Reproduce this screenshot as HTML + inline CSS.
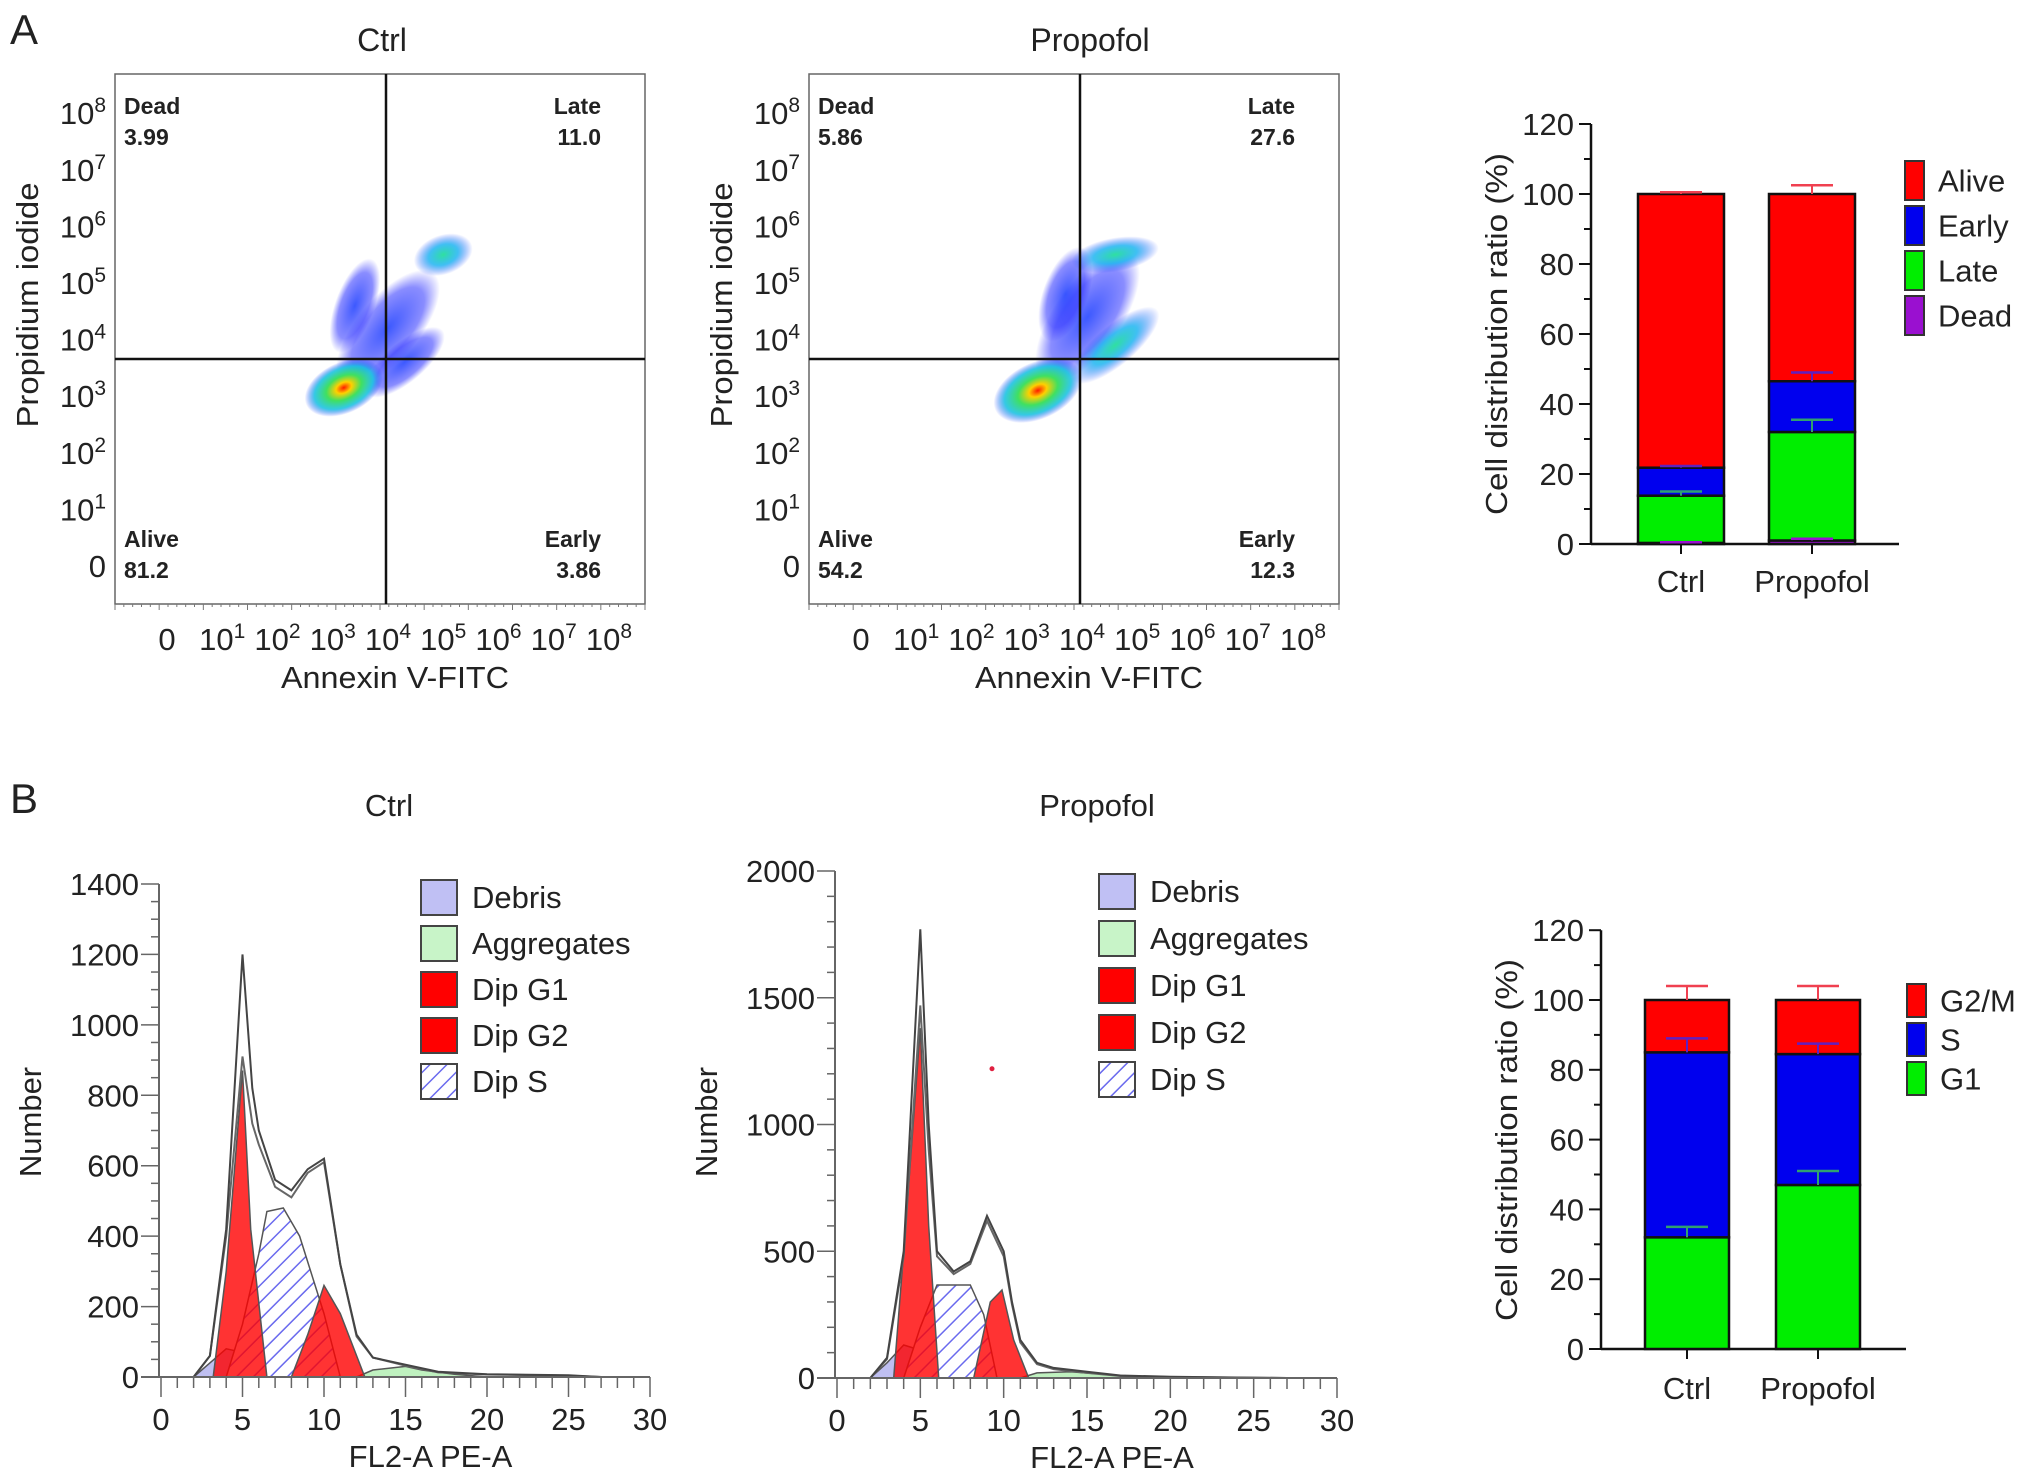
<!DOCTYPE html>
<html><head><meta charset="utf-8"><title>Apoptosis and cell cycle</title>
<style>
html,body{margin:0;padding:0;background:#fff;}
svg{display:block;font-family:"Liberation Sans",Arial,sans-serif;}
</style></head>
<body>
<svg id="fig" width="2032" height="1475" viewBox="0 0 2032 1475" xmlns="http://www.w3.org/2000/svg">
<defs>
<pattern id="hatch" patternUnits="userSpaceOnUse" width="12" height="12" patternTransform="rotate(45)">
<rect width="12" height="12" fill="#ffffff"/>
<line x1="0" y1="0" x2="0" y2="12" stroke="#6a6aee" stroke-width="3"/>
</pattern>
<clipPath id="clipA1"><rect x="115" y="74" width="530" height="530"/></clipPath>
<clipPath id="clipA2"><rect x="809" y="74" width="530" height="530"/></clipPath>
<radialGradient id="coreGrad">
<stop offset="0" stop-color="#ff1a00"/>
<stop offset="0.2" stop-color="#ffd000"/>
<stop offset="0.45" stop-color="#40e060"/>
<stop offset="0.75" stop-color="#10c0e0" stop-opacity="0.85"/>
<stop offset="1" stop-color="#1030ff" stop-opacity="0"/>
</radialGradient>
<radialGradient id="blueGrad">
<stop offset="0" stop-color="#1a3cff" stop-opacity="0.85"/>
<stop offset="0.7" stop-color="#2a30ff" stop-opacity="0.55"/>
<stop offset="1" stop-color="#3030ff" stop-opacity="0"/>
</radialGradient>
<radialGradient id="cyanGrad">
<stop offset="0" stop-color="#30e0a0"/>
<stop offset="0.5" stop-color="#10b0f0" stop-opacity="0.8"/>
<stop offset="1" stop-color="#1a40ff" stop-opacity="0"/>
</radialGradient>
</defs>
<g id="root"></g>
</svg>
<script>
// ---------- Panel A flow data (quadrant percentages) ----------
const flowTitles = ['Ctrl', 'Propofol'];
const flowDead = ['3.99', '5.86'];
const flowLate = ['11.0', '27.6'];
const flowAlive = ['81.2', '54.2'];
const flowEarly = ['3.86', '12.3'];
// density blobs in decade coordinates: [xDecade, yDecade, rx(decades), ry(decades), angle, type]
const blobsCtrl = [[4.0,4.2,1.3,0.55,-50,'b'],[3.4,4.6,0.9,0.35,-70,'b'],[5.0,5.5,0.55,0.35,-20,'c'],[4.3,3.6,0.9,0.35,-40,'b'],[3.2,3.15,0.75,0.45,-25,'core']];
const blobsProp = [[4.1,4.4,1.4,0.6,-55,'b'],[3.7,4.8,0.9,0.4,-70,'b'],[4.6,5.5,0.8,0.3,-10,'c'],[4.6,3.9,1.0,0.35,-40,'c'],[3.2,3.1,0.85,0.5,-25,'core']];

// ---------- Panel A bar chart ----------
const barCatsA = ['Ctrl', 'Propofol'];
const deadA = [0.3, 1.0];
const lateA = [13.5, 31.0];
const earlyA = [8.0, 14.5];
const aliveA = [78.2, 53.5];
const deadErrA = [0.2, 0.5];
const lateErrA = [1.2, 3.5];
const earlyErrA = [0.5, 2.5];
const aliveErrA = [0.5, 2.5];
const ticksA = [0, 20, 40, 60, 80, 100, 120];

// ---------- Panel B histograms ----------
const histXTicks = [0, 5, 10, 15, 20, 25, 30];
const h1Ticks = [0, 200, 400, 600, 800, 1000, 1200, 1400];
const h2Ticks = [0, 500, 1000, 1500, 2000];
const c_totX = [0,2,3,4,5,5.6,6,7,8,9,10,11,12,13,15,17,20,25,27];
const c_totY = [0,0,60,420,1200,820,700,560,530,590,620,320,120,55,35,15,8,5,0];
const c_tot2Y = [0,0,60,400,910,720,660,540,510,580,610,320,115,55,32,13,7,4,0];
const c_g1X = [3.2,4,5,5.5,6.5];
const c_g1Y = [0,300,870,420,0];
const c_g2X = [8,9,10,11,12.5];
const c_g2Y = [0,120,260,180,0];
const c_sX = [4,5,6,6.5,7.5,8.5,10,11];
const c_sY = [0,150,350,470,480,400,180,0];
const c_debX = [2,3,4,5,6,7,8];
const c_debY = [0,40,80,70,50,40,0];
const c_aggX = [12,13,15,16,18,20];
const c_aggY = [0,20,30,20,8,0];

const p_totX = [0,2,3,4,5,5.5,6,7,8,9,10,10.5,11,12,13,15,17,20,27];
const p_totY = [0,0,80,500,1770,1000,500,420,460,640,500,300,150,60,40,25,10,5,0];
const p_tot2Y = [0,0,75,480,1470,900,480,410,450,620,480,290,140,55,35,20,8,4,0];
const p_g1X = [3.4,4,5,5.5,6.1];
const p_g1Y = [0,500,1380,600,0];
const p_sX = [4,5,6,8,8.8,9.6];
const p_sY = [0,200,367,367,250,0];
const p_g2X = [8.2,9.2,9.9,10.6,11.5];
const p_g2Y = [0,300,347,150,0];
const p_debX = [2,3,4,5,6,7,9];
const p_debY = [0,60,130,110,70,40,0];
const p_aggX = [11,12,14,16,18,20];
const p_aggY = [0,20,25,15,5,0];
const histLegend = ['Debris', 'Aggregates', 'Dip G1', 'Dip G2', 'Dip S'];

// ---------- Panel B bar chart ----------
const barCatsB = ['Ctrl', 'Propofol'];
const g1B = [32, 47];
const sB = [53, 37.5];
const g2mB = [15, 15.5];
const g1ErrB = [3, 4];
const sErrB = [4, 3];
const g2mErrB = [4, 4];
const ticksB = [0, 20, 40, 60, 80, 100, 120];

const NS = 'http://www.w3.org/2000/svg';
const root = document.getElementById('root');
function el(tag, attrs, parent) {
  const e = document.createElementNS(NS, tag);
  for (const k in attrs) e.setAttribute(k, attrs[k]);
  (parent || root).appendChild(e);
  return e;
}
function txt(s, x, y, size, opts, parent) {
  opts = opts || {};
  const t = el('text', {x: x, y: y, 'font-size': size, 'text-anchor': opts.anchor || 'start', fill: '#222', 'font-weight': opts.bold ? 'bold' : 'normal'}, parent);
  if (opts.rot) t.setAttribute('transform', 'rotate(' + opts.rot + ' ' + x + ' ' + y + ')');
  if (opts.len) { t.setAttribute('textLength', opts.len); t.setAttribute('lengthAdjust', 'spacingAndGlyphs'); }
  t.textContent = s;
  return t;
}

// panel letters
let t = txt('A', 10, 44, 42);


t = txt('B', 10, 813, 42);



// ---------- Flow plots ----------
const fBoxX = 115, fBoxY = 74, fBoxW = 530, fBoxH = 530;
const fx0 = 167, fxStep = 55.25, fy0 = 566, fyStep = 56.6;
const supNums = ['', '1','2','3','4','5','6','7','8'];
[0, 1].forEach(function (p) {
  const off = p * 694;
  const g = el('g', {});
  
  
  const fx = function (d) { return off + fx0 + d * fxStep; };
  const fy = function (d) { return fy0 - d * fyStep; };
  const title = txt(flowTitles[p], off + (p ? 396 : 382), 51, 32, {anchor: 'middle'}, g);
  
  
  const bg = el('g', {'clip-path': p === 0 ? 'url(#clipA1)' : 'url(#clipA2)'}, g);
  const blobs = p === 0 ? blobsCtrl : blobsProp;
  blobs.forEach(function (b) {
    const cx = fx(b[0]), cy = fy(b[1]);
    const e = el('ellipse', {cx: cx, cy: cy, rx: b[2] * fxStep, ry: b[3] * fyStep,
      transform: 'rotate(' + b[4] + ' ' + cx + ' ' + cy + ')',
      fill: b[5] === 'core' ? 'url(#coreGrad)' : (b[5] === 'c' ? 'url(#cyanGrad)' : 'url(#blueGrad)')}, bg);
    
    
  });
  const box = el('rect', {x: off + fBoxX, y: fBoxY, width: fBoxW, height: fBoxH, fill: 'none', stroke: '#666', 'stroke-width': 1.5}, g);
  
  
  for (let i = 0; i <= 60; i++) {
    el('line', {x1: off + fBoxX + i * fBoxW / 60, x2: off + fBoxX + i * fBoxW / 60, y1: fBoxY + fBoxH, y2: fBoxY + fBoxH + (i % 5 === 0 ? 6 : 3), stroke: '#777', 'stroke-width': 1}, g);
  }
  const vl = el('line', {x1: off + 386, x2: off + 386, y1: fBoxY, y2: fBoxY + fBoxH, stroke: '#111', 'stroke-width': 2.5}, g);
  
  
  const hl = el('line', {x1: off + fBoxX, x2: off + fBoxX + fBoxW, y1: 359, y2: 359, stroke: '#111', 'stroke-width': 2.5}, g);
  
  
  for (let i = 0; i <= 8; i++) {
    const y = fy(i) + 11;
    const tt = el('text', {x: off + 106, y: y, 'font-size': 31, 'text-anchor': 'end', fill: '#222'}, g);
    
    
    if (i === 0) { tt.textContent = '0'; }
    else {
      const a = document.createElementNS(NS, 'tspan'); a.textContent = '10'; tt.appendChild(a);
      const b = document.createElementNS(NS, 'tspan'); b.setAttribute('dy', '-12'); b.setAttribute('font-size', '21'); b.textContent = supNums[i]; tt.appendChild(b);
    }
  }
  for (let i = 0; i <= 8; i++) {
    const x = fx(i);
    const tt = el('text', {x: x, y: 650, 'font-size': 31, 'text-anchor': 'middle', fill: '#222'}, g);
    
    
    if (i === 0) { tt.textContent = '0'; }
    else {
      const a = document.createElementNS(NS, 'tspan'); a.textContent = '10'; tt.appendChild(a);
      const b = document.createElementNS(NS, 'tspan'); b.setAttribute('dy', '-12'); b.setAttribute('font-size', '21'); b.textContent = supNums[i]; tt.appendChild(b);
    }
  }
  const xt = txt('Annexin V-FITC', off + 395, 688, 31, {anchor: 'middle', len: 228}, g);
  
  
  const yt = txt('Propidium iodide', off + 38, 305, 31, {anchor: 'middle', rot: -90, len: 245}, g);
  
  
  const q = [['Dead', flowDead[p], off + 124, 'start', 114], ['Late', flowLate[p], off + 601, 'end', 114], ['Alive', flowAlive[p], off + 124, 'start', 547], ['Early', flowEarly[p], off + 601, 'end', 547]];
  q.forEach(function (r) {
    const a = txt(r[0], r[2], r[4], 23, {anchor: r[3], bold: true}, g);
    
    
    const b = txt(r[1], r[2], r[4] + 31, 23, {anchor: r[3], bold: true}, g);
    
    
  });
});

// ---------- stacked bar helper ----------
function stackedBar(cfg) {
  const g = el('g', {});
  
  
  const yS = function (v) { return cfg.y0 - v * cfg.k; };
  const ax = el('line', {x1: cfg.ax, x2: cfg.ax, y1: yS(120), y2: cfg.y0, stroke: '#111', 'stroke-width': 2.5}, g);
  
  
  const bx = el('line', {x1: cfg.ax, x2: cfg.axEnd, y1: cfg.y0, y2: cfg.y0, stroke: '#111', 'stroke-width': 2.5}, g);
  
  
  for (let v = 0; v <= 120; v += 10) {
    el('line', {x1: cfg.ax - (v % 20 === 0 ? 12 : 7), x2: cfg.ax, y1: yS(v), y2: yS(v), stroke: '#111', 'stroke-width': 2}, g);
  }
  cfg.ticks.forEach(function (v) {
    const tl = txt(String(v), cfg.ax - 17, yS(v) + 11, 31, {anchor: 'end'}, g);
    
    
  });
  const yt = txt('Cell distribution ratio (%)', cfg.ax - 84, cfg.titleY, 31, {anchor: 'middle', rot: -90, len: 362}, g);
  
  
  const errs = [];
  cfg.cats.forEach(function (c, i) {
    const cx = cfg.centers[i];
    let base = 0;
    cfg.series.forEach(function (s) {
      const v = s.vals[i];
      const r = el('rect', {x: cx - cfg.bw / 2, y: yS(base + v), width: cfg.bw, height: v * cfg.k, fill: s.color, stroke: '#111', 'stroke-width': 2.5}, g);
      
      
      base += v;
      errs.push([cx, yS(base), yS(base + s.err[i]), s.ecol]);
    });
    el('line', {x1: cx, x2: cx, y1: cfg.y0, y2: cfg.y0 + 10, stroke: '#111', 'stroke-width': 2}, g);
    const cl = txt(c, cx, cfg.labelY, 31, {anchor: 'middle'}, g);
    
    
  });
  errs.forEach(function (e) {
    const e1 = el('line', {x1: e[0], x2: e[0], y1: e[1], y2: e[2], stroke: e[3], 'stroke-width': 2}, g);
    
    
    el('line', {x1: e[0] - 21, x2: e[0] + 21, y1: e[2], y2: e[2], stroke: e[3], 'stroke-width': 2.5}, g);
  });
  cfg.legend.forEach(function (L, i) {
    const lg = el('g', {}, g);
    
    
    el('rect', {x: cfg.legX, y: cfg.legY + i * cfg.legStep, width: 19, height: cfg.legStep - 6, fill: L[1], stroke: '#333', 'stroke-width': 2}, lg);
    txt(L[0], cfg.legX + 33, cfg.legY + i * cfg.legStep + cfg.legStep / 2 + 8, 31, {}, lg);
  });
}

stackedBar({name: 'bar-chart-apoptosis', ax: 1591, axEnd: 1899, y0: 544, k: 3.5, ticks: ticksA, cats: barCatsA,
  centers: [1681, 1812], bw: 86, titleY: 334, labelY: 592,
  series: [
    {key: 'dead', vals: deadA, err: deadErrA, color: '#9a10d0', ecol: '#9a10d0'},
    {key: 'late', vals: lateA, err: lateErrA, color: '#00ee00', ecol: '#30a070'},
    {key: 'early', vals: earlyA, err: earlyErrA, color: '#0000ee', ecol: '#6020c0'},
    {key: 'alive', vals: aliveA, err: aliveErrA, color: '#ff0000', ecol: '#f04050'}],
  legend: [['Alive', '#ff0000'], ['Early', '#0000ee'], ['Late', '#00ee00'], ['Dead', '#9a10d0']],
  legX: 1905, legY: 161, legStep: 45});

stackedBar({name: 'bar-chart-cell-cycle', ax: 1601, axEnd: 1906, y0: 1349, k: 3.49, ticks: ticksB, cats: barCatsB,
  centers: [1687, 1818], bw: 84, titleY: 1140, labelY: 1399,
  series: [
    {key: 'g1', vals: g1B, err: g1ErrB, color: '#00ee00', ecol: '#30a070'},
    {key: 's', vals: sB, err: sErrB, color: '#0000ee', ecol: '#6020c0'},
    {key: 'g2m', vals: g2mB, err: g2mErrB, color: '#ff0000', ecol: '#f04050'}],
  legend: [['G2/M', '#ff0000'], ['S', '#0000ee'], ['G1', '#00ee00']],
  legX: 1907, legY: 984, legStep: 39});

// ---------- Histograms ----------
function histogram(cfg) {
  const g = el('g', {});
  
  
  const X = function (v) { return cfg.x0 + v * (cfg.x30 - cfg.x0) / 30; };
  const Y = function (v) { return cfg.y0 - v * (cfg.y0 - cfg.yTop) / cfg.yMax; };
  const poly = function (xs, ys) {
    let d = '';
    xs.forEach(function (x, i) { d += (i ? 'L' : 'M') + X(x).toFixed(1) + ',' + Y(ys[i]).toFixed(1); });
    return d;
  };
  const area = function (xs, ys, fill, op, nm) {
    const p = el('path', {d: poly(xs, ys) + 'Z', fill: fill, 'fill-opacity': op, stroke: '#555', 'stroke-width': 1.5}, g);
    
    
  };
  area(cfg.debX, cfg.debY, '#b8b8f0', 0.9, 'debris-area');
  area(cfg.aggX, cfg.aggY, '#b8f0b8', 0.9, 'aggregates-area');
  area(cfg.sX, cfg.sY, 'url(#hatch)', 1, 'dip-s-area');
  area(cfg.g1X, cfg.g1Y, '#ff0000', 0.8, 'dip-g1-area');
  area(cfg.g2X, cfg.g2Y, '#ff0000', 0.8, 'dip-g2-area');
  const l2 = el('path', {d: poly(cfg.totX, cfg.tot2Y), fill: 'none', stroke: '#666', 'stroke-width': 2}, g);
  
  
  const l1 = el('path', {d: poly(cfg.totX, cfg.totY), fill: 'none', stroke: '#444', 'stroke-width': 2}, g);
  
  
  const ya = el('line', {x1: cfg.x0 - 2, x2: cfg.x0 - 2, y1: cfg.yTop, y2: cfg.y0, stroke: '#666', 'stroke-width': 2}, g);
  
  
  const xa = el('line', {x1: cfg.x0 - 20, x2: cfg.x30, y1: cfg.y0, y2: cfg.y0, stroke: '#666', 'stroke-width': 2}, g);
  
  
  for (let v = 0; v <= cfg.yMax; v += cfg.minor) {
    const major = v % cfg.major === 0;
    el('line', {x1: cfg.x0 - (major ? 20 : 10), x2: cfg.x0 - 2, y1: Y(v), y2: Y(v), stroke: '#666', 'stroke-width': 1.5}, g);
  }
  cfg.yTicks.forEach(function (v) {
    const tl = txt(String(v), cfg.x0 - 22, Y(v) + 11, 31, {anchor: 'end'}, g);
    
    
  });
  for (let v = 0; v <= 30; v++) {
    el('line', {x1: X(v), x2: X(v), y1: cfg.y0, y2: cfg.y0 + (v % 5 === 0 ? 20 : 11), stroke: '#666', 'stroke-width': 1.5}, g);
  }
  histXTicks.forEach(function (v) {
    const tl = txt(String(v), X(v), cfg.y0 + 53, 31, {anchor: 'middle'}, g);
    
    
  });
  const xt = txt('FL2-A PE-A', (cfg.x0 + cfg.x30) / 2 + 25, cfg.y0 + 90, 31, {anchor: 'middle'}, g);
  
  
  const yt = txt('Number', cfg.x0 - 120, 1122, 31, {anchor: 'middle', rot: -90}, g);
  
  
  const tt = txt(cfg.title, cfg.titleX, 816, 31, {anchor: 'middle'}, g);
  
  
  const fills = ['#c0c0f4', '#c8f4c8', '#ff0000', '#ff0000', 'url(#hatch)'];
  histLegend.forEach(function (L, i) {
    const lg = el('g', {}, g);
    
    
    const cy = cfg.legY + i * cfg.legStep;
    el('rect', {x: cfg.legX, y: cy - 17, width: 36, height: 35, fill: fills[i], stroke: '#444', 'stroke-width': 2}, lg);
    txt(L, cfg.legX + 51, cy + 11, 31, {}, lg);
  });
  return {X: X, Y: Y, g: g};
}

histogram({name: 'histogram-ctrl', title: 'Ctrl', titleX: 389, x0: 161, x30: 650, y0: 1377, yTop: 884, yMax: 1400, major: 200, minor: 50, yTicks: h1Ticks,
  totX: c_totX, totY: c_totY, tot2Y: c_tot2Y, g1X: c_g1X, g1Y: c_g1Y, g2X: c_g2X, g2Y: c_g2Y, sX: c_sX, sY: c_sY,
  debX: c_debX, debY: c_debY, aggX: c_aggX, aggY: c_aggY, legX: 421, legY: 897, legStep: 46});

const h2 = histogram({name: 'histogram-propofol', title: 'Propofol', titleX: 1097, x0: 837, x30: 1337, y0: 1378, yTop: 871, yMax: 2000, major: 500, minor: 100, yTicks: h2Ticks,
  totX: p_totX, totY: p_totY, tot2Y: p_tot2Y, g1X: p_g1X, g1Y: p_g1Y, g2X: p_g2X, g2Y: p_g2Y, sX: p_sX, sY: p_sY,
  debX: p_debX, debY: p_debY, aggX: p_aggX, aggY: p_aggY, legX: 1099, legY: 891, legStep: 47});
const dot = el('circle', {cx: h2.X(9.3), cy: h2.Y(1220), r: 2.5, fill: '#e02040'}, h2.g);


</script>
</body></html>
